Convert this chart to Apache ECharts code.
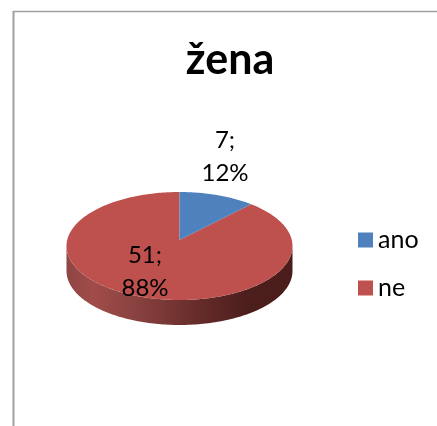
<!DOCTYPE html>
<html><head><meta charset="utf-8">
<style>html,body{margin:0;padding:0;background:#fff}#c{width:437px;height:426px}</style>
<script src="https://cdn.jsdelivr.net/npm/echarts@6/dist/echarts.min.js"></script>
</head><body><div id="c"></div>
<script>
const titleText = 'žena';
const categories = ['ano', 'ne'];
const values = [7, 51];
const percentLabels = ['12%', '88%'];
const colors = ['#4F81BD', '#BE504D'];
const total = values.reduce((a, b) => a + b, 0);

const FONT = 'Lato, "Open Sans", sans-serif';
// Projection of the tilted disc onto the screen
const P = { cx: 179.5, cy: 240, A: 112.3, B: 53.33, a: 0.111, depth: 25 };
function project(theta) {
  const u = Math.sin(theta), v = Math.cos(theta), d = 1 + P.a * v;
  return [P.cx + P.A * u / d, P.cy - P.B * v / d];
}
function arc(from, to) {
  const n = Math.max(2, Math.ceil(Math.abs(to - from) / 0.02)), pts = [];
  for (let i = 0; i <= n; i++) pts.push(project(from + (to - from) * i / n));
  return pts;
}
const sideStops = [
  [0, '#8F4543'], [0.12, '#A04C4A'], [0.3, '#8A4240'], [0.55, '#6A2E2C'], [0.8, '#4C1E1C'], [1, '#4A1C1B']
];
const labelPos = [[225, 157], [145, 271.5]];

function renderSlice(idx) {
  return function (params, api) {
    const before = values.slice(0, idx).reduce((a, b) => a + b, 0);
    const start = before / total * Math.PI * 2;
    const end = (before + api.value(0)) / total * Math.PI * 2;
    const children = [];
    // outer wall: the part of the rim facing the viewer
    const lo = Math.max(start, Math.PI / 2 + 0.11), hi = Math.min(end, Math.PI * 1.5 - 0.11);
    if (hi > lo) {
      const rim = arc(lo, hi);
      const shape = rim.concat(rim.slice().reverse().map(p => [p[0], p[1] + P.depth]));
      children.push({
        type: 'polygon', shape: { points: shape },
        style: { fill: new echarts.graphic.LinearGradient(0, 0, 1, 0, sideStops.map(s => ({ offset: s[0], color: s[1] }))) }
      });
    }
    children.push({
      type: 'polygon',
      shape: { points: [[P.cx, P.cy]].concat(arc(start, end)) },
      style: { fill: colors[idx] }
    });
    children.push({
      type: 'text', z2: 10,
      style: {
        x: labelPos[idx][0], y: labelPos[idx][1],
        text: api.value(0) + ';\n' + percentLabels[idx],
        fill: '#000', font: '24px ' + FONT, align: 'center', verticalAlign: 'middle', lineHeight: 33
      }
    });
    return { type: 'group', children };
  };
}

const chart = echarts.init(document.getElementById('c'), null, { renderer: 'canvas' });
chart.setOption({
  animation: false,
  backgroundColor: '#fff',
  title: {
    text: titleText, left: 225, top: 34, textAlign: 'center',
    textStyle: { fontFamily: FONT, fontWeight: 'bold', fontSize: 43, color: '#000' }
  },
  legend: {
    data: categories, orient: 'vertical', left: 353, top: 222.5,
    icon: 'rect', itemWidth: 15, itemHeight: 15, itemGap: 23,
    selectedMode: false,
    textStyle: { fontFamily: FONT, fontSize: 25, color: '#000', padding: [0, 0, 0, 0] }
  },
  graphic: [
    { type: 'line', shape: { x1: 13.5, y1: 11, x2: 13.5, y2: 426 }, style: { stroke: '#A0A0A0', lineWidth: 2 } },
    { type: 'line', shape: { x1: 13, y1: 11.5, x2: 437, y2: 11.5 }, style: { stroke: '#A0A0A0', lineWidth: 1.5 } }
  ],
  // "ne" is drawn first so its wall and face sit underneath the "ano" slice
  series: [1, 0].map(i => ({
    type: 'custom', name: categories[i], coordinateSystem: 'none',
    itemStyle: { color: colors[i] }, silent: true,
    data: [[values[i]]], renderItem: renderSlice(i)
  }))
});
</script></body></html>
